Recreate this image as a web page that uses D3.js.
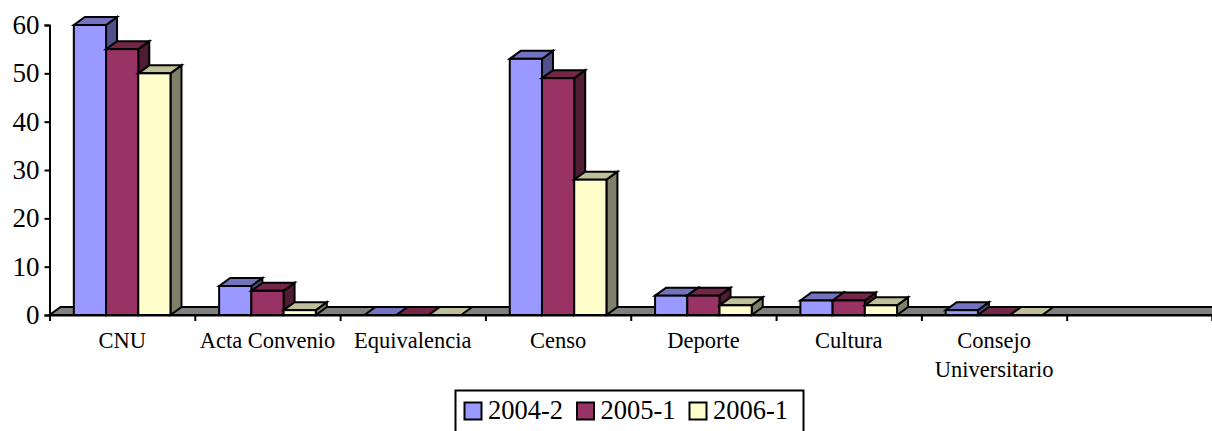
<!DOCTYPE html>
<html><head><meta charset="utf-8">
<script src="https://cdn.jsdelivr.net/npm/d3@7/dist/d3.min.js"></script>
<style>html,body{margin:0;padding:0;background:#fff;overflow:hidden}svg{display:block}text{font-family:"Liberation Serif",serif;fill:#000}</style>
</head><body><div id="c"></div>
<script>
const categories=["CNU","Acta Convenio","Equivalencia","Censo","Deporte","Cultura","Consejo Universitario",""];
const seriesNames=["2004-2","2005-1","2006-1"];
const v2004=[60,6,0,53,4,3,1,null];
const v2005=[55,5,0,49,4,3,0,null];
const v2006=[50,1,0,28,2,2,0,null];
const yTicks=[0,10,20,30,40,50,60];
const frontColors=["#9999ff","#993366","#ffffcc"];
const topColors=["#7373bf","#732645","#bfbf99"];
const sideColors=["#50508a","#4f1c34","#80806a"];
const seriesValues=[v2004,v2005,v2006];

const W=1212,H=431,dx=11,dy=8,SW=2;
const svg=d3.select("#c").append("svg").attr("width",W).attr("height",H);
const y=d3.scaleLinear().domain([0,60]).range([315,25]);
const x0=d3.scaleBand().domain(categories.map((c,i)=>i)).range([49.5,1212]);
const x1=d3.scaleBand().domain(seriesNames).range([0,x0.step()]).paddingInner(0).paddingOuter(0.755);
const poly=p=>p.map(q=>q.join(",")).join(" ");
const stroke=s=>s.attr("stroke","#000").attr("stroke-width",SW).attr("stroke-linejoin","miter");

// floor
stroke(svg.append("polygon")).attr("fill","#808080")
 .attr("points",poly([[49.5,y(0)],[49.5+dx,y(0)-dy],[W+5,y(0)-dy],[W+5,y(0)]]));

// bars
categories.forEach((c,i)=>{
 seriesNames.forEach((s,k)=>{
  const val=seriesValues[k][i];
  if(val==null) return;
  const l=x0(i)+x1(s),r=l+x1.bandwidth(),t=y(val),b=y(0);
  const g=svg.append("g");
  if(val>0){
   stroke(g.append("polygon")).attr("fill",sideColors[k])
    .attr("points",poly([[r,t],[r+dx,t-dy],[r+dx,b-dy],[r,b]]));
  }
  stroke(g.append("polygon")).attr("fill",topColors[k])
    .attr("points",poly([[l,t],[l+dx,t-dy],[r+dx,t-dy],[r,t]]));
  if(val>0){
   stroke(g.append("rect")).attr("fill",frontColors[k])
    .attr("x",l).attr("y",t).attr("width",r-l).attr("height",b-t);
  }
 });
});

// axes
const yAxis=svg.append("g").attr("transform","translate(49.5,0)")
 .call(d3.axisLeft(y).tickValues(yTicks).tickSize(5).tickPadding(5));
yAxis.selectAll("path,line").attr("stroke","#000").attr("stroke-width",SW);
yAxis.selectAll("text").attr("font-size",27).attr("fill","#000").attr("font-family","Liberation Serif");

const tickX=categories.map((c,i)=>x0(i)).concat([W]);
const xScale=d3.scaleLinear().domain([49.5,W]).range([49.5,W]);
const xAxis=svg.append("g").attr("transform",`translate(0,${y(0)})`)
 .call(d3.axisBottom(xScale).tickValues(tickX).tickSize(6).tickFormat(""));
xAxis.selectAll("path,line").attr("stroke","#000").attr("stroke-width",SW);

// category labels
const labelLines=c=>c==="Consejo Universitario"?["Consejo","Universitario"]:[c];
categories.forEach((c,i)=>{
 if(!c) return;
 const t=svg.append("text").attr("text-anchor","middle").attr("font-size",22.5)
  .attr("x",x0(i)+x0.step()/2).attr("y",348);
 labelLines(c).forEach((ln,j)=>t.append("tspan").attr("x",t.attr("x")).attr("dy",j?28.5:0).text(ln));
});

// legend
svg.append("rect").attr("x",455.5).attr("y",390.5).attr("width",348).attr("height",60)
 .attr("fill","#fff").attr("stroke","#000").attr("stroke-width",2);
const legendX=d3.scalePoint().domain(seriesNames).range([464,689]);
seriesNames.forEach((s,k)=>{
 const lx=legendX(s);
 stroke(svg.append("rect")).attr("x",lx+.5).attr("y",402.5).attr("width",17).attr("height",17).attr("fill",frontColors[k]);
 svg.append("text").attr("x",lx+24).attr("y",419).attr("font-size",26.5).text(s);
});
</script></body></html>
